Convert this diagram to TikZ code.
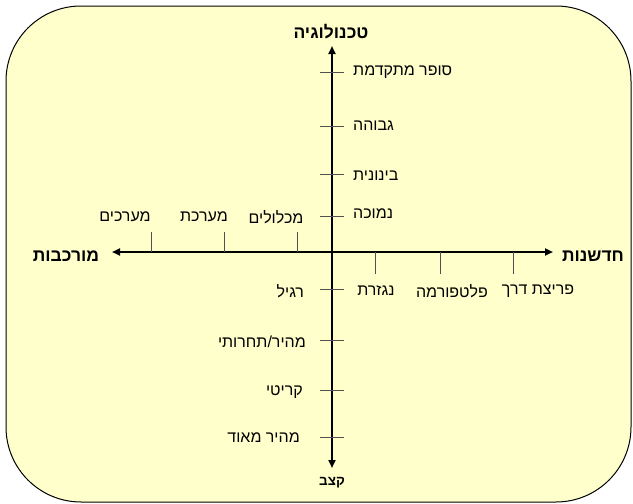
\documentclass[tikz,border=0pt]{standalone}
\usepackage{fontspec}
\setmainfont{Liberation Sans}
\newfontfamily\heb[Script=Hebrew]{Liberation Sans}
\TeXXeTstate=1
\usetikzlibrary{arrows.meta}
\definecolor{bgyellow}{HTML}{FFFFCC}
\definecolor{tickgray}{HTML}{505050}
\tikzset{
  axisline/.style={line width=2.4pt, -{Triangle[length=8pt,width=7pt]}},
  tickline/.style={line width=0.9pt, tickgray},
  lbl/.style={font=\heb\fontsize{16}{18}\selectfont, inner sep=0pt},
  ttl/.style={font=\heb\bfseries\fontsize{17.5}{20}\selectfont, inner sep=0pt},
}
\begin{document}
\begin{tikzpicture}[x=1pt,y=-1pt]
\useasboundingbox (0,0) rectangle (633,504);
\draw[fill=bgyellow, line width=1pt, rounded corners=75pt] (6,6) rectangle (631,502);
% axis ends
\coordinate (O) at (332,252);
\coordinate (top) at (332,46);
\coordinate (bot) at (332,468);
\coordinate (lft) at (112,252);
\coordinate (rgt) at (553,252);
\draw[axisline] (O) -- (top);
\draw[axisline] (O) -- (bot);
\draw[axisline] (O) -- (lft);
\draw[axisline] (O) -- (rgt);
% titles
\node[ttl] (tTech) at (331,32) {\beginR טכנולוגיה\endR};
\node[ttl, font=\heb\bfseries\fontsize{13.5}{15}\selectfont] (tRate) at (332,483) {\beginR קצב\endR};
\node[ttl] (tComp) at (66,256) {\beginR מורכבות\endR};
\node[ttl] (tInno) at (593,256) {\beginR חדשנות\endR};
% vertical ticks upper
\foreach \yy/\nm in {72/a1,126/a2,174/a3,216/a4}{
  \coordinate (\nm l) at (320,\yy); \coordinate (\nm r) at (344,\yy);
  \draw[tickline] (\nm l) -- (\nm r);
}
\node[lbl, anchor=west] (v1) at (353,72) {\beginR סופר מתקדמת\endR};
\node[lbl, anchor=west] (v2) at (353,126) {\beginR גבוהה\endR};
\node[lbl, anchor=west] (v3) at (353,176) {\beginR בינונית\endR};
\node[lbl, anchor=west] (v4) at (353,214) {\beginR נמוכה\endR};
% vertical ticks lower
\foreach \yy/\nm in {289/b1,340/b2,390/b3,437/b4}{
  \coordinate (\nm l) at (320,\yy); \coordinate (\nm r) at (344,\yy);
  \draw[tickline] (\nm l) -- (\nm r);
}
\node[lbl, anchor=east] (w1) at (304,291) {\beginR רגיל\endR};
\node[lbl, anchor=east] (w2) at (306,342) {\beginR מהיר/תחרותי\endR};
\node[lbl, anchor=east] (w3) at (303,392) {\beginR קריטי\endR};
\node[lbl, anchor=east] (w4) at (300,438) {\beginR מהיר מאוד\endR};
% horizontal ticks left (up)
\foreach \xx/\nm in {151/c1,224/c2,297/c3}{
  \coordinate (\nm t) at (\xx,232); \coordinate (\nm b) at (\xx,252);
  \draw[tickline] (\nm b) -- (\nm t);
}
\node[lbl] (h1) at (125,217) {\beginR מערכים\endR};
\node[lbl] (h2) at (204,217) {\beginR מערכת\endR};
\node[lbl] (h3) at (276,217) {\beginR מכלולים\endR};
% horizontal ticks right (down)
\foreach \xx/\nm in {375/d1,440/d2,513/d3}{
  \coordinate (\nm t) at (\xx,252); \coordinate (\nm b) at (\xx,274);
  \draw[tickline] (\nm t) -- (\nm b);
}
\node[lbl] (k1) at (376,291) {\beginR נגזרת\endR};
\node[lbl] (k2) at (452,291) {\beginR פלטפורמה\endR};
\node[lbl] (k3) at (538,291) {\beginR פריצת דרך\endR};
\end{tikzpicture}
\end{document}
